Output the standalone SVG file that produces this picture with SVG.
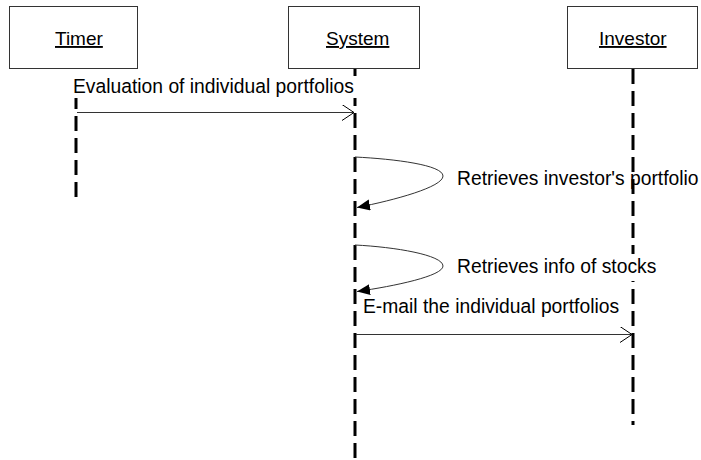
<svg xmlns="http://www.w3.org/2000/svg" width="701" height="460" viewBox="0 0 701 460">
  <style>
    .box { fill: #ffffff; stroke: #333333; stroke-width: 1; }
    .name { font-family: "Liberation Sans", Arial, sans-serif; font-size: 19px; fill: #000000; text-decoration: underline; }
    .life { stroke: #000000; stroke-width: 3; stroke-dasharray: 15 7; fill: none; }
    .msg { stroke: #333333; stroke-width: 1; fill: none; }
    .label { font-family: "Liberation Sans", Arial, sans-serif; font-size: 19.3px; fill: #000000; }
    .mask { fill: #ffffff; stroke: none; }
  </style>
  <defs>
    <marker id="open" markerUnits="userSpaceOnUse" markerWidth="14" markerHeight="18" refX="12" refY="8" orient="auto">
      <path d="M0,0 L12,8 L0,16" fill="none" stroke="#000000" stroke-width="1"/>
    </marker>
    <marker id="filled" markerUnits="userSpaceOnUse" markerWidth="14" markerHeight="12" refX="13" refY="5.5" orient="auto">
      <path d="M0,0 L13,5.5 L0,11 z" fill="#000000"/>
    </marker>
  </defs>

  <rect width="701" height="460" fill="#ffffff"/>

  <!-- lifelines -->
  <g id="lifelines">
    <line class="life" x1="76" y1="90" x2="76" y2="202" stroke-dashoffset="-4"/>
    <line class="life" x1="355" y1="69" x2="355" y2="460"/>
    <line class="life" x1="633" y1="69" x2="633" y2="425"/>
  </g>

  <!-- objects -->
  <g id="timer">
    <rect class="box" x="9.5" y="6.5" width="128" height="62"/>
    <text class="name" x="55" y="45">Timer</text>
  </g>
  <g id="system">
    <rect class="box" x="288.5" y="6.5" width="131" height="62"/>
    <text class="name" x="326" y="45">System</text>
  </g>
  <g id="investor">
    <rect class="box" x="567.5" y="6.5" width="130" height="62"/>
    <text class="name" x="599" y="45">Investor</text>
  </g>

  <!-- messages -->
  <g id="connectors">
    <rect class="mask" x="71" y="76" width="287" height="22"/>
    <text class="label" x="73" y="93">Evaluation of individual portfolios</text>
    <line class="msg" x1="77" y1="112.5" x2="354" y2="112.5" marker-end="url(#open)"/>

    <path class="msg" d="M355,157 C395,159 443,165 443,176 C443,187 395,200 357,207.5" marker-end="url(#filled)"/>
    <text class="label" x="457" y="185">Retrieves investor's portfolio</text>

    <path class="msg" d="M355,245 C395,247 443,255 443,266 C443,276 395,286 357,291.5" marker-end="url(#filled)"/>
    <rect class="mask" x="455" y="254" width="203" height="27"/>
    <text class="label" x="457" y="273">Retrieves info of stocks</text>

    <text class="label" x="363" y="312.5">E-mail the individual portfolios</text>
    <line class="msg" x1="356" y1="334.5" x2="632" y2="334.5" marker-end="url(#open)"/>
  </g>
</svg>
